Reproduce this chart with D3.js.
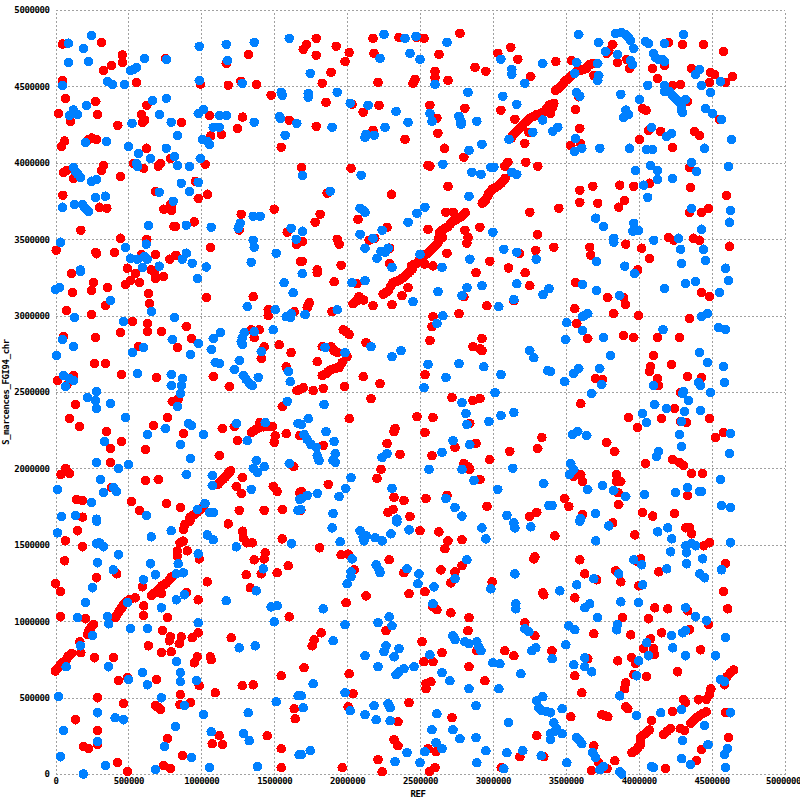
<!DOCTYPE html>
<html><head><meta charset="utf-8">
<script src="https://cdn.jsdelivr.net/npm/d3@7/dist/d3.min.js"></script>
<style>
html,body{margin:0;padding:0;background:#fff}
svg{display:block}
text{font-family:"DejaVu Sans Mono",monospace;font-size:9px;font-weight:bold;fill:#000;letter-spacing:-.4px}
</style></head><body><div id="c"></div>
<script>
// all positions in kilobases
const xTicks=[0,500000,1000000,1500000,2000000,2500000,3000000,3500000,4000000,4500000,5000000];
const yTicks=[0,500000,1000000,1500000,2000000,2500000,3000000,3500000,4000000,4500000,5000000];
const xTitle="REF", yTitle="S_marcences_FGI94_chr";
const redPoints=[
[48,4777],[315,4788],[459,4705],[459,4657],[384,4637],[329,4605],[756,4683],[1171,4650],[1324,4709],[48,4539],[557,4526],[995,4515],[1185,4507],[1272,4533],[1379,4513],[1479,4441],[68,4422],[276,4402],[20,4323],[288,4317],[103,4271],[626,4376],[591,4317],[612,4280],[596,4265],[427,4245],[865,4265],[1057,4310],[1283,4299],[1249,4225],[1139,4184],[1064,4175],[1603,4278],[249,4162],[226,4153],[281,4153],[62,4142],[41,4108],[625,4095],[1548,4101],[790,4029],[534,3996],[605,3964],[721,3996],[705,3977],[1027,3990],[329,3983],[315,3951],[55,3938],[78,3951],[123,3898],[445,3911],[959,3879],[50,3787],[685,3813],[1043,3794],[979,3767],[788,3728],[742,3696],[797,3689],[797,3713],[301,3709],[352,3702],[1274,3663],[1500,3696],[952,3613],[813,3584],[824,3584],[174,3558],[1260,3560],[1589,3545],[445,3506],[626,3499],[5,3427],[276,3414],[281,3405],[404,3414],[1064,3447],[1653,3467],[591,3401],[687,3401],[783,3369],[826,3395],[493,3310],[657,3299],[1680,3355],
[1788,4814],[1721,4775],[1699,4742],[1925,4762],[2014,4722],[1788,4703],[1986,4663],[1890,4592],[1829,4520],[2178,4814],[2185,4716],[2356,4820],[2479,4820],[2527,4814],[2774,4847],[2630,4709],[2212,4526],[2603,4598],[2603,4559],[2466,4546],[2452,4520],[2692,4539],[2877,4624],[2952,4598],[3034,4716],[3123,4755],[3171,4677],[3260,4565],[1856,4395],[2034,4382],[2219,4376],[2110,4330],[2568,4376],[2616,4291],[2808,4356],[3055,4343],[3151,4284],[1788,4238],[2178,4212],[2123,4166],[2397,4153],[2623,4193],[2669,4095],[2801,4036],[3219,4127],[3247,4199],[1687,3970],[2027,3964],[2555,3983],[2568,3977],[3226,4003],[3308,3977],[3103,4003],[3082,3977],[2692,3846],[2304,3794],[1863,3800],[1815,3663],[1781,3611],[2075,3630],[2274,3578],[2555,3565],[2911,3578],[3253,3676],[3306,3532],[2808,3558],[2829,3512],[2822,3473],[2151,3493],[2190,3506],[1932,3499],[1945,3467],[1694,3486],[3294,3427],[2292,3441],[2685,3408],[2979,3355],[2292,3342],[1692,3355],[1959,3329],[3183,3408],[1795,3299],[3107,3312],
[3125,4160],[3137,4182],[3154,4198],[3171,4214],[3188,4231],[3205,4247],[3228,4269],[3251,4291],[3274,4302],[3297,4313],[3320,4320],[3342,4328],[3365,4353],[3388,4378],
[2441,3325],[2458,3335],[2475,3342],[2492,3358],[2509,3375],[2526,3388],[2543,3401],[2557,3413],[2571,3425],[2585,3438],[2600,3451],[2612,3465],[2623,3478],[2629,3510],[2635,3545],[2648,3555],[2662,3565],[2677,3574],[2692,3582],[2707,3598],[2721,3615],[2737,3622],[2753,3630],[2768,3639],[2783,3648],[2797,3661],[2810,3674],[2927,3735],[2938,3746],[2950,3757],[2962,3778],[2973,3800],[2984,3813],[2995,3826],[3011,3835],[3027,3844],[3042,3855],[3057,3866],[3070,3882],[3084,3898],[2532,3338],[2589,3325],[2677,3676],[2727,3676],[2655,3510],
[3432,4663],[3541,4670],[3822,4775],[3795,4733],[3781,4716],[3856,4657],[3918,4677],[3938,4618],[4096,4618],[4178,4637],[4205,4788],[4301,4775],[4445,4775],[4582,4729],[4363,4618],[4493,4592],[4521,4578],[4644,4565],[4486,4526],[4596,4526],[4130,4552],[4233,4507],[4288,4513],[3692,4572],[3589,4432],[3418,4389],[3568,4350],[4027,4356],[4050,4343],[4336,4402],[3596,4225],[4068,4212],[4151,4206],[4007,4153],[4384,4206],[4418,4180],[4555,4284],[4233,4101],[3534,4114],[3600,4127],[4349,3970],[4075,3866],[4356,3839],[3596,3820],[3685,3846],[3870,3853],[3966,3846],[4603,3787],[3596,3741],[3719,3735],[3904,3754],[3863,3709],[3452,3702],[4349,3676],[4431,3676],[4479,3702],[4205,3512],[4240,3493],[4377,3506],[4418,3493],[4623,3454],[3418,3447],[3664,3447],[3671,3395],[3911,3467],[4020,3441],[4075,3375],[3993,3299],
[3429,4472],[3440,4480],[3452,4487],[3464,4498],[3475,4509],[3486,4523],[3498,4537],[3510,4545],[3521,4552],[3532,4563],[3543,4574],[3558,4585],[3573,4596],[3589,4602],[3605,4607],[3623,4612],[3642,4618],[3650,4629],[3658,4640],[3672,4645],[3687,4650],[3411,4367],[3395,4323],
[110,3275],[260,3216],[247,3163],[356,3183],[116,3150],[548,3275],[479,3203],[514,3229],[575,3216],[678,3281],[685,3242],[740,3255],[637,3144],[644,3078],[342,3065],[75,3033],[247,3007],[1036,3118],[1356,3124],[1459,3039],[1459,3000],[1637,3026],[527,2961],[630,2948],[630,2895],[726,2895],[445,2889],[897,2928],[274,2856],[55,2863],[934,2850],[836,2791],[568,2797],[1342,2908],[1397,2908],[1363,2856],[1431,2797],[1411,2719],[1534,2810],[1616,2758],[267,2686],[342,2686],[1582,2666],[452,2614],[692,2595],[1082,2601],[1192,2536],[14,2575],[123,2608],[78,2544],[1657,2510],[801,2438],[842,2453],[137,2418],[1555,2405],[96,2326],[164,2274],[767,2333],[671,2281],[1144,2261],[1226,2274],[349,2241],[877,2228],[452,2176],[377,2130],[616,2124],[1249,2182],[1582,2228],[1676,2215],[1123,2084],[377,2039],[1635,2012],[71,2000],[37,1960],[96,1967],[616,1921],[705,1927],[1281,1941],[1240,1882],[1274,1836],[1493,1882],[1520,1849],[1676,1842],[384,1875],[144,1797],[185,1790],[521,1784],[760,1770],[575,1725],[856,1744],[1260,1725],[1431,1725],[1555,1731],[185,1681],
[1345,2235],[1356,2243],[1368,2252],[1385,2260],[1402,2268],[1425,2272],[1447,2274],[1468,2274],[1488,2274],[1402,2300],[1507,2213],[1500,2170],[1116,1897],[1127,1908],[1139,1919],[1150,1930],[1162,1941],[1173,1955],[1185,1969],[1193,1976],[1201,1984],[922,1679],[939,1690],[957,1701],[974,1715],[991,1729],[1005,1742],[1018,1756],
[1795,3281],[1911,3222],[2068,3209],[2884,3281],[3221,3281],[3253,3196],[2418,3183],[2377,3131],[2308,3072],[2178,3065],[2801,3124],[2959,3065],[3144,3098],[1733,3072],[1740,3085],[1726,3052],[1897,3026],[2589,2993],[2582,2928],[2767,3013],[2568,2837],[2925,2850],[2863,2797],[2911,2784],[2925,2771],[2130,2823],[1973,2908],[1993,2895],[2014,2876],[1829,2797],[1890,2797],[1911,2771],[1932,2758],[2000,2732],[1795,2699],[1945,2660],[1928,2657],[1911,2653],[1894,2647],[1877,2640],[1866,2630],[1856,2621],[1829,2608],[1966,2693],[2110,2601],[2226,2555],[2534,2614],[1699,2529],[1676,2516],[1767,2510],[1836,2523],[1982,2536],[2164,2457],[2719,2464],[2863,2444],[2911,2457],[2014,2326],[2479,2339],[2589,2333],[2842,2294],[2329,2261],[2322,2241],[2534,2235],[3336,2202],[1836,2150],[2274,2163],[2884,2163],[2740,2137],[3308,2130],[3116,2111],[2363,2091],[2582,2084],[2979,2058],[2233,1993],[2205,1934],[2801,2032],[2829,2012],[2842,1993],[1870,1895],[2911,1927],[1687,1849],[2322,1810],[2390,1790],[2541,1803],[2685,1823],[2959,1751],[2315,1731],[2281,1712],[2431,1685],[3301,1712],[3253,1685],[1683,1725],
[2247,3140],[2264,3150],[2281,3161],[2298,3190],[2315,3216],[2332,3222],[2349,3227],[2366,3238],[2384,3249],[2401,3263],[2418,3277],[2432,3290],[2447,3303],[2041,3078],[2082,3124],[2114,3102],[2064,3096],
[3568,3216],[3788,3118],[3897,3118],[3911,3072],[4431,3150],[4486,3124],[3562,3046],[3829,3013],[4000,3000],[4349,2980],[3575,2948],[3651,2850],[3897,2869],[3966,2856],[4130,2856],[4281,2856],[4103,2738],[4226,2680],[4082,2666],[4075,2634],[3705,2588],[3753,2581],[4130,2588],[4137,2542],[4336,2601],[4431,2595],[4288,2496],[3603,2424],[4247,2392],[3931,2333],[4157,2326],[3993,2267],[4288,2307],[4329,2300],[4486,2326],[4527,2202],[4582,2235],[3781,2169],[3836,2111],[4048,2032],[4233,2058],[4281,2039],[4308,2019],[4363,1967],[4438,1967],[3555,1947],[3603,1960],[3616,1914],[3849,1960],[3849,1914],[3877,1914],[3858,1842],[3493,1803],[3521,1751],[3863,1764],[3616,1699],[4027,1712],[4096,1688],[4247,1705],[4336,1823],
[151,1592],[68,1526],[185,1487],[62,1395],[0,1245],[34,1193],[34,1029],[205,1016],[1185,1637],[1555,1539],[1283,1589],[1288,1546],[1311,1513],[1349,1513],[1363,1402],[1438,1448],[1431,1408],[1596,1363],[1520,1317],[1411,1310],[1308,1304],[1041,1258],[1336,1219],[979,1140],[986,1408],[904,1461],[420,1310],[281,1284],[596,1225],[899,1186],[728,1180],[605,1101],[605,1036],[767,1023],[1603,1029],[735,938],[788,898],[781,872],[863,898],[849,853],[979,924],[938,892],[637,839],[726,794],[794,800],[1205,892],[973,767],[952,728],[1062,767],[1068,748],[267,761],[397,761],[174,794],[167,866],[432,611],[493,630],[692,617],[986,578],[1281,578],[1356,584],[1548,643],[1096,532],[288,499],[856,519],[466,460],[854,454],[925,467],[685,449],[705,434],[719,421],[1637,427],[1644,362],[137,355],[288,284],[1123,251],[1452,251],[767,231],[1075,198],[1144,192],[192,179],[226,166],[288,192],[1548,166],[870,120],[425,74],[740,55],[788,35],[493,15],[1548,42],
[0,674],[10,685],[21,696],[32,710],[43,724],[55,732],[66,739],[78,755],[89,772],[100,780],[112,789],[219,914],[226,930],[233,946],[246,962],[260,979],[409,1023],[420,1039],[431,1055],[442,1072],[454,1088],[465,1105],[477,1121],[494,1132],[511,1142],[546,1153],[660,1169],[677,1183],[694,1197],[711,1213],[728,1230],[745,1240],[762,1251],[780,1271],[797,1291],[836,1426],[836,1459],[854,1513],[877,1524],[877,1600],[888,1633],[922,1655],
[2500,1592],[2630,1585],[2692,1526],[2671,1474],[2788,1533],[1811,1480],[1959,1435],[2007,1439],[2288,1402],[2048,1336],[2390,1317],[2644,1336],[2740,1323],[2788,1363],[2712,1251],[3288,1422],[3281,1408],[2995,1258],[2534,1193],[2425,1180],[2130,1166],[3342,1186],[3349,1173],[1993,1121],[2589,1095],[2616,1075],[2712,1055],[2836,1023],[3219,990],[3288,905],[2829,938],[2267,938],[1822,924],[1774,879],[1760,839],[2514,866],[2651,794],[2527,735],[2589,735],[1705,696],[2014,656],[2836,702],[3082,807],[3144,774],[3405,807],[2890,807],[2945,611],[2575,604],[2541,591],[2541,558],[2041,526],[2425,467],[2007,441],[2349,342],[2719,369],[3301,251],[2322,225],[2349,185],[2555,166],[2610,146],[2212,94],[1966,42],[2240,15],[2603,42],[2566,15],[3185,113],[3349,113],[3057,42],
[3425,1559],[3822,1644],[3973,1565],[4322,1611],[4349,1611],[4363,1572],[4445,1493],[4486,1513],[3596,1402],[4014,1408],[3993,1389],[3842,1330],[3630,1310],[4137,1323],[3712,1271],[3877,1258],[4000,1232],[4596,1376],[3562,1153],[4582,1193],[4610,1081],[4110,1088],[4199,1081],[4336,1068],[3890,1023],[4068,1016],[4479,977],[4349,944],[3692,918],[3945,911],[4157,924],[4082,885],[4034,820],[4103,820],[4110,781],[4425,813],[3952,761],[3979,722],[3651,754],[3856,741],[3966,650],[3562,643],[4055,637],[4267,669],[3610,532],[3911,597],[3904,558],[4589,584],[3911,440],[3925,427],[3534,375],[3747,388],[3767,382],[3788,375],[4089,349],[4233,408],[4596,401],[4308,488],[4322,467],[4411,486],[4285,297],[4315,284],[4616,238],[3692,185],[4431,159],[4397,87],[3836,87],[4185,35],[3676,22],[3726,74],[3783,35],
[4651,680],[4628,663],[4605,637],[4463,488],[4486,521],[4495,558],[4358,332],[4373,348],[4388,364],[4405,375],[4422,386],[4442,397],[4463,408],[4171,260],[4194,279],[4217,297],[3954,140],[3969,150],[3984,161],[3997,175],[4011,188],[4011,213],[4011,238],[4028,252],[4046,266],[4060,277],[4073,288]
];
const bluePoints=[
[89,4783],[247,4834],[192,4748],[89,4657],[226,4663],[986,4762],[1171,4775],[1363,4788],[1603,4814],[760,4677],[1178,4670],[610,4683],[555,4624],[514,4605],[535,4612],[48,4507],[356,4533],[390,4513],[473,4513],[986,4539],[1281,4520],[1548,4461],[1555,4441],[664,4408],[760,4422],[212,4376],[123,4345],[96,4310],[151,4317],[1014,4350],[979,4323],[712,4317],[1123,4310],[1171,4310],[1536,4304],[1543,4291],[1655,4258],[525,4258],[794,4265],[1363,4265],[1082,4232],[1123,4232],[836,4180],[1575,4180],[1007,4153],[1041,4140],[1055,4121],[205,4134],[349,4140],[500,4108],[760,4095],[568,4062],[651,4029],[815,4042],[993,4029],[555,3996],[562,3977],[836,3983],[918,3977],[123,3970],[137,3944],[155,3924],[171,3905],[247,3879],[281,3892],[863,3866],[979,3872],[918,3813],[712,3807],[274,3774],[342,3781],[808,3748],[48,3709],[130,3728],[185,3728],[199,3709],[212,3696],[226,3682],[1356,3650],[1404,3650],[1267,3604],[1253,3571],[637,3591],[897,3591],[1068,3578],[1616,3571],[34,3480],[1651,3499],[623,3467],[1356,3493],[1363,3447],[479,3447],[1514,3408],[897,3408],[870,3369],[514,3375],[562,3369],[610,3388],[630,3369],[938,3342],[1342,3349],[712,3323],[596,3316],[1034,3318],[171,3299],
[2253,4840],[2397,4814],[2473,4827],[2685,4788],[2431,4716],[2500,4677],[2226,4683],[3055,4677],[3130,4611],[3130,4578],[3342,4650],[3219,4520],[1747,4585],[2603,4513],[2829,4461],[3068,4435],[3164,4382],[1733,4454],[1733,4428],[1932,4461],[2021,4389],[2144,4376],[2336,4336],[2568,4323],[2582,4271],[2767,4304],[2781,4271],[2781,4251],[2890,4271],[2418,4265],[1897,4232],[2260,4232],[2185,4180],[2130,4186],[2123,4166],[3342,4280],[3274,4199],[3110,4153],[2925,4121],[2836,4081],[2657,3990],[2096,3918],[1694,3918],[2856,3938],[2918,3924],[2986,3970],[3007,3970],[3130,3938],[3164,3924],[1884,3813],[2836,3781],[2089,3702],[2110,3689],[2123,3676],[2534,3709],[2479,3669],[2418,3611],[1694,3552],[2089,3532],[2240,3558],[3000,3545],[2178,3506],[2123,3441],[3075,3434],[3164,3414],[2233,3421],[2281,3441],[2260,3414],[2205,3375],[2500,3401],[2842,3369],[3297,3369],[2308,3316],[2651,3316],
[3589,4840],[3726,4788],[3842,4847],[3884,4853],[3911,4840],[3931,4820],[3945,4801],[3966,4749],[3774,4729],[3856,4709],[3575,4657],[3719,4650],[3945,4670],[3959,4644],[3726,4572],[3719,4539],[3562,4585],[4048,4794],[4068,4781],[4178,4781],[4308,4840],[4103,4716],[4116,4690],[4137,4677],[4164,4677],[4178,4663],[4418,4611],[4390,4578],[4062,4507],[4178,4507],[4178,4467],[4212,4467],[4233,4441],[4253,4422],[4274,4402],[4295,4376],[4322,4415],[4295,4343],[4301,4330],[4431,4507],[4562,4533],[4493,4461],[3575,4461],[3596,4435],[3877,4448],[4007,4415],[4459,4356],[4507,4323],[4568,4284],[3911,4345],[3897,4297],[3931,4317],[4637,4153],[4089,4232],[4192,4173],[4226,4193],[3445,4232],[3411,4206],[3568,4160],[3559,4075],[3610,4095],[3733,4095],[3938,4095],[4055,4088],[4096,4088],[4452,4095],[4363,4003],[4397,3944],[4616,3977],[4082,3983],[3979,3951],[4130,3951],[4130,3892],[4233,3898],[4034,3853],[4062,3774],[4363,3702],[4630,3689],[4623,3611],[3705,3637],[3760,3584],[3966,3604],[3959,3552],[4000,3558],[4431,3565],[3829,3506],[3829,3480],[4103,3493],[4274,3506],[4288,3434],[4445,3434],[4459,3362],[4295,3342],[3712,3355],[3904,3323],[4596,3310],
[171,3288],[973,3242],[1568,3216],[1630,3150],[27,3183],[0,3170],[377,3098],[1315,3059],[1507,3039],[657,3026],[815,2987],[130,2987],[466,2961],[1582,2993],[1616,3013],[1610,2987],[1493,2908],[1363,2895],[1132,2889],[1082,2850],[1294,2889],[1281,2856],[1274,2830],[1281,2810],[48,2843],[123,2797],[801,2843],[979,2817],[603,2791],[527,2758],[1068,2778],[925,2745],[1411,2765],[7,2738],[1260,2706],[1096,2693],[1123,2686],[1226,2647],[1596,2634],[562,2621],[794,2614],[870,2588],[863,2542],[856,2490],[794,2542],[1288,2608],[1308,2581],[1329,2555],[1349,2542],[1390,2595],[1610,2568],[55,2608],[96,2588],[123,2575],[68,2536],[281,2503],[219,2464],[274,2444],[281,2392],[377,2425],[836,2405],[1589,2438],[479,2333],[911,2294],[932,2281],[753,2261],[630,2222],[1014,2222],[336,2176],[856,2156],[1240,2294],[1315,2182],[1438,2300],[1664,2294],[925,2065],[281,2039],[500,2026],[432,2000],[1377,2052],[1356,2000],[1384,1973],[1431,2012],[1603,2032],[897,1960],[1075,1954],[1075,1888],[308,1927],[14,1862],[329,1842],[397,1875],[418,1849],[1342,1862],[247,1777],[1676,1797],[1025,1770],[973,1731],[1055,1712],[1082,1712],[1664,1725],[41,1685],[137,1692],[623,1692],[281,1668],
[1692,3275],[2034,3216],[2123,3229],[2623,3157],[2822,3183],[2788,3131],[2925,3196],[3164,3209],[3385,3177],[3344,3137],[2452,3092],[3041,3059],[3144,3105],[1932,3039],[1712,3007],[2657,3000],[2616,2948],[2164,2797],[1849,2791],[1986,2758],[2370,2771],[2308,2732],[3253,2771],[3281,2725],[2555,2680],[2767,2686],[2938,2666],[3055,2614],[3377,2640],[2678,2595],[2527,2529],[3014,2496],[1842,2418],[2788,2431],[2815,2359],[2822,2287],[3055,2346],[3144,2366],[2973,2307],[1733,2326],[1856,2241],[1911,2176],[1685,2287],[1705,2222],[1726,2189],[1753,2156],[1788,2137],[2726,2182],[2842,2156],[1918,2097],[1904,2052],[1918,2039],[1795,2084],[1808,2052],[2274,2097],[2240,2071],[2651,2104],[2562,1993],[2788,1993],[3137,2000],[2027,1940],[2870,1921],[1991,1869],[2308,1869],[1795,1836],[1945,1816],[1726,1823],[1687,1803],[3034,1862],[3349,1901],[2678,1803],[2740,1744],[3384,1757],[1904,1705],[2788,1688],[3096,1692],[2342,1668],[1683,1731],
[3973,3275],[3616,3203],[3712,3163],[3870,3131],[4178,3177],[4322,3209],[4390,3222],[4616,3229],[4555,3150],[3630,3000],[3651,3013],[3616,2993],[4431,2993],[4473,3013],[3507,2954],[3616,2902],[3500,2843],[3760,2856],[4167,2908],[4548,2922],[4596,2908],[3808,2738],[4418,2758],[4473,2693],[4582,2666],[3589,2653],[3555,2621],[3733,2653],[3493,2568],[3747,2549],[3395,2634],[4103,2542],[4411,2562],[4425,2542],[4589,2562],[4308,2503],[4301,2490],[4493,2496],[3678,2490],[4342,2444],[4110,2418],[4192,2392],[4315,2372],[4425,2379],[4027,2359],[4055,2300],[4295,2307],[3548,2222],[3582,2241],[3644,2215],[4281,2222],[4630,2228],[4295,2143],[4623,2097],[4137,2111],[4123,2078],[3534,2032],[3555,1993],[3527,1960],[4562,1927],[3753,1888],[3829,1855],[3651,1862],[3911,1816],[4041,1829],[4253,1842],[4336,1875],[4418,1849],[4431,1849],[3406,1757],[4568,1757],[4630,1744],[3705,1705],[3603,1672],
[14,1578],[283,1655],[301,1513],[329,1487],[281,1507],[432,1435],[288,1382],[657,1552],[794,1592],[1041,1565],[1082,1533],[1240,1487],[1619,1507],[979,1441],[651,1376],[842,1376],[397,1336],[1425,1343],[685,1304],[877,1317],[829,1310],[603,1271],[253,1219],[1377,1199],[884,1173],[829,1140],[1171,1134],[205,1121],[493,1121],[726,1088],[1479,1094],[1520,1101],[151,1023],[356,1029],[365,983],[1500,996],[979,990],[514,951],[630,951],[253,905],[171,839],[1260,826],[1370,839],[73,702],[363,702],[829,735],[856,663],[856,604],[596,663],[500,617],[630,584],[966,611],[21,506],[726,499],[884,447],[1514,473],[1664,512],[288,401],[409,369],[466,355],[1014,388],[1322,401],[55,284],[822,310],[1068,277],[1288,264],[1329,218],[288,212],[747,179],[34,113],[932,107],[342,55],[685,28],[1055,42],[1384,48],[192,0],[1671,127],
[1897,1611],[2342,1650],[2925,1611],[3144,1644],[3151,1611],[3260,1618],[2425,1598],[2301,1572],[2952,1539],[1952,1520],[2089,1592],[2110,1552],[2130,1559],[2116,1526],[2192,1546],[2240,1526],[2034,1408],[2822,1402],[2199,1369],[2219,1336],[2226,1317],[2411,1343],[3151,1310],[2493,1310],[2027,1323],[2027,1291],[2000,1245],[2740,1278],[2486,1245],[2596,1225],[2986,1212],[2589,1114],[3157,1114],[3157,1081],[1836,1081],[2288,1029],[2308,970],[2212,990],[1986,977],[3219,951],[3247,931],[1904,872],[2726,905],[2740,879],[2808,866],[2890,866],[2836,853],[2904,833],[2918,807],[2267,839],[2253,800],[2356,820],[2322,767],[2123,774],[2568,781],[3294,826],[3267,807],[2212,702],[2459,702],[3000,728],[3048,722],[2390,689],[2356,669],[2336,650],[2651,663],[2705,611],[3192,656],[1767,591],[2836,558],[3041,558],[1986,532],[3342,506],[1685,512],[1699,434],[2185,447],[2123,388],[2281,460],[2295,434],[2021,414],[2884,447],[2616,395],[2199,355],[2295,349],[3107,336],[2582,290],[2726,290],[2774,231],[2884,238],[3394,225],[2610,205],[2534,146],[2651,166],[1747,153],[1685,127],[2411,140],[2952,153],[3096,140],[3205,153],[3331,120],[2329,81],[2500,74],[2890,74],[3075,35],[3301,478],[3315,434],[3336,414],[3370,408],
[3596,1655],[3795,1624],[4130,1585],[4199,1611],[4226,1539],[3705,1526],[4630,1513],[4322,1493],[4363,1507],[4390,1493],[4219,1454],[4329,1448],[3966,1402],[4020,1369],[4438,1408],[4329,1376],[4192,1343],[4568,1336],[3863,1310],[4418,1310],[4452,1284],[3692,1278],[3575,1238],[4027,1238],[3459,1199],[3877,1127],[4000,1121],[3664,1114],[3630,1088],[4322,1088],[3719,1023],[4390,1029],[4466,1003],[3521,970],[3562,944],[3856,977],[3849,944],[4322,938],[4301,924],[4226,905],[4596,892],[4055,859],[3500,846],[4233,826],[4068,774],[4322,774],[4527,774],[4000,741],[3630,761],[3630,702],[3555,715],[3678,669],[3406,754],[3986,643],[4562,617],[4589,604],[3870,512],[3475,427],[3395,401],[3986,382],[4151,401],[4295,421],[4630,401],[3418,336],[4452,316],[3429,281],[3475,264],[3395,264],[3436,297],[3575,238],[3596,218],[3610,198],[4301,218],[4475,192],[4610,166],[4589,127],[3685,140],[3705,107],[4295,100],[3507,74],[4356,61],[4596,42],[4087,48],[4103,42],[3760,48],[3733,28],[3870,15],[3884,0]
];
const W=800,H=800,plotL=55.5,plotR=784.5,plotB=774,plotT=10;
const x=d3.scaleLinear().domain([0,5000000]).range([plotL,plotR]);
const y=d3.scaleLinear().domain([0,5000000]).range([plotB,plotT]);
const svg=d3.select("#c").append("svg").attr("width",W).attr("height",H);

const gx=svg.append("g").attr("transform",`translate(0,${plotB+.5})`)
  .call(d3.axisBottom(x).tickValues(xTicks).tickFormat(d3.format("d")).tickSize(-(plotB-plotT)).tickPadding(7));
const gy=svg.append("g").attr("transform",`translate(${plotL},0)`)
  .call(d3.axisLeft(y).tickValues(yTicks).tickFormat(d3.format("d")).tickSize(-(plotR-plotL)).tickPadding(6));
[gx,gy].forEach(g=>{
  g.select(".domain").remove();
  g.selectAll(".tick line").attr("stroke","#a0a0a0").attr("stroke-width",1).attr("stroke-dasharray","2,2").attr("shape-rendering","crispEdges");
});
gx.selectAll(".tick text").attr("dy","0.3em").filter(d=>d===5000000).attr("dx",-1.5);

const pts=svg.append("g").attr("shape-rendering","crispEdges");
[[redPoints,"#ff0000"],[bluePoints,"#0080ff"]].forEach(([arr,c])=>{
  pts.append("g").selectAll("circle").data(arr).join("circle")
    .attr("cx",d=>x(d[0]*1000)).attr("cy",d=>y(d[1]*1000)).attr("r",4.8).attr("fill",c);
});
svg.append("text").attr("x",418).attr("y",797).attr("text-anchor","middle").text(xTitle);
svg.append("text").attr("transform","translate(9,392) rotate(-90)").attr("text-anchor","middle").text(yTitle);
</script></body></html>
